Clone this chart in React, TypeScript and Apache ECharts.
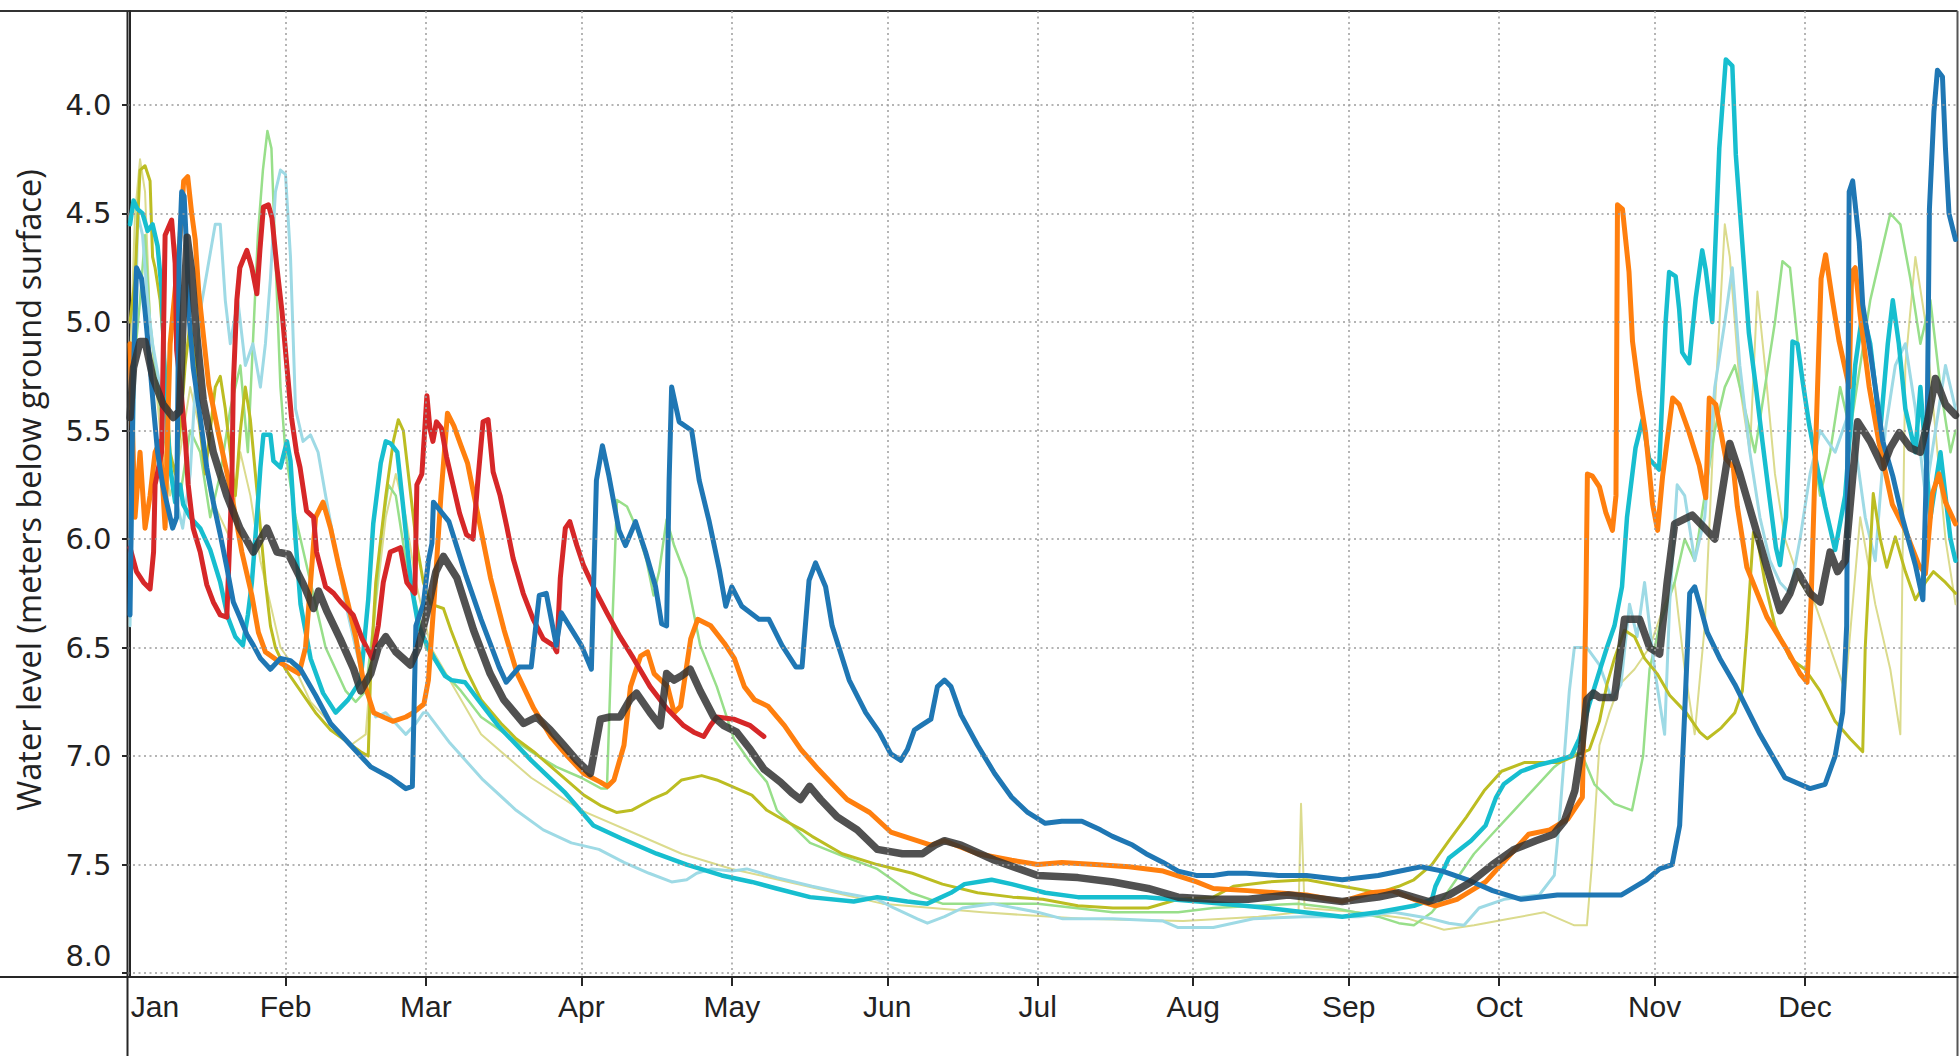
import React, { useEffect, useRef } from 'react';
import * as echarts from 'echarts';

// ---------- axis definitions ----------
const MONTHS = ['Jan', 'Feb', 'Mar', 'Apr', 'May', 'Jun', 'Jul', 'Aug', 'Sep', 'Oct', 'Nov', 'Dec'];
const MONTH_START_DAYS = [0, 31, 59, 90, 120, 151, 181, 212, 243, 273, 304, 334];
const Y_TICKS = [4.0, 4.5, 5.0, 5.5, 6.0, 6.5, 7.0, 7.5, 8.0];
const Y_TITLE = 'Water level (meters below ground surface)';

// ---------- series: [day of year, water level (m below surface)] ----------
const MEAN: [number, number][] = [
  [0, 5.44], [0.7, 5.21], [2, 5.09], [3, 5.09], [4.6, 5.26], [6.6, 5.38], [8.6, 5.44], [9.9, 5.41], [10.6, 4.98], [11.4, 4.61],
  [12.2, 4.75], [13.3, 5.06], [14.6, 5.36], [16.6, 5.6], [19.3, 5.8], [21.9, 5.95], [24.6, 6.06], [27.3, 5.95], [29.3, 6.06],
  [31.6, 6.07], [34.6, 6.21], [36.6, 6.32], [37.6, 6.24], [39.2, 6.33], [41.9, 6.46], [44.6, 6.6], [46, 6.7], [48, 6.62],
  [49.5, 6.5], [51, 6.45], [53, 6.52], [55.9, 6.58], [57.5, 6.5], [59.2, 6.34], [61, 6.15], [62.5, 6.08], [65.2, 6.18],
  [68.5, 6.42], [71.8, 6.62], [74.5, 6.74], [78.5, 6.85], [81.1, 6.82], [83.8, 6.88], [86.5, 6.95], [89.1, 7.02], [91.8, 7.08],
  [93.8, 6.83], [95.7, 6.82], [97.7, 6.82], [99.7, 6.74], [101, 6.71], [103.7, 6.8], [105.7, 6.86], [107, 6.62], [108.5, 6.65],
  [110, 6.63], [111.7, 6.6], [113.7, 6.7], [116.4, 6.82], [118.4, 6.86], [121, 6.89], [123.7, 6.97], [126.4, 7.06],
  [129.7, 7.12], [132, 7.17], [133.7, 7.2], [135.5, 7.14], [137.7, 7.2], [141, 7.28], [145, 7.34], [149, 7.43], [154, 7.45],
  [158, 7.45], [160.5, 7.41], [162.4, 7.39], [165.7, 7.41], [172.4, 7.48], [181, 7.55], [189, 7.56], [196, 7.58], [203, 7.61],
  [209, 7.65], [216, 7.66], [223, 7.66], [231, 7.64], [241.7, 7.67], [248.9, 7.65], [253, 7.63], [258.9, 7.67], [263, 7.64],
  [267.4, 7.58], [271.7, 7.5], [276, 7.43], [280.3, 7.39], [283.9, 7.36], [286, 7.3], [288.1, 7.16], [289.5, 6.95], [290.5, 6.74],
  [291.8, 6.71], [293, 6.73], [296, 6.73], [298, 6.37], [301, 6.37], [303, 6.5], [305, 6.53], [306.5, 6.2], [308, 5.93],
  [311.5, 5.89], [314, 5.95], [316, 6.0], [319, 5.56], [321, 5.7], [323.5, 5.9], [326, 6.1], [329, 6.33], [331, 6.25],
  [332.5, 6.15], [335, 6.25], [337, 6.29], [339, 6.06], [340.5, 6.15], [342, 6.1], [344.5, 5.46], [347, 5.55], [349.5, 5.67],
  [351, 5.58], [352.8, 5.51], [355, 5.58], [357, 5.6], [358.5, 5.45], [360, 5.26], [362, 5.38], [364, 5.43],
];

const DARK_BLUE: [number, number][] = [
  [0, 6.35], [0.6, 5.3], [1.3, 4.75], [2.3, 4.8], [3, 4.95], [3.8, 5.15], [4.7, 5.4], [5.5, 5.6], [6.5, 5.75], [7.5, 5.85],
  [8.5, 5.95], [9.3, 5.9], [9.8, 4.7], [10.3, 4.4], [10.8, 4.42], [11.3, 4.67], [11.8, 4.98], [12.6, 5.21], [14, 5.44],
  [15.3, 5.67], [16.6, 5.83], [18, 5.98], [19.3, 6.13], [20.6, 6.29], [21.9, 6.36], [23.3, 6.44], [24.6, 6.49], [26, 6.55],
  [28, 6.6], [30, 6.55], [32, 6.56], [34, 6.6], [37, 6.72], [40, 6.85], [44, 6.95], [48, 7.05], [52, 7.1], [55, 7.15],
  [56.3, 7.14], [57, 6.4], [58.5, 6.3], [59.5, 6.1], [60.2, 6.02], [60.5, 5.83], [63.6, 5.92], [67, 6.17], [70, 6.37],
  [73.6, 6.59], [75, 6.66], [77.6, 6.59], [80, 6.59], [81.6, 6.26], [83, 6.25], [85, 6.49], [86, 6.34], [90, 6.49], [92, 6.6],
  [93, 5.73], [94.2, 5.57], [95.5, 5.71], [97.5, 5.96], [98.8, 6.03], [100.8, 5.92], [102.8, 6.06], [104.8, 6.22], [106, 6.39],
  [107, 6.4], [107.5, 5.73], [108, 5.3], [109.5, 5.46], [112, 5.5], [113.5, 5.73], [115.5, 5.92], [117.5, 6.14], [118.8, 6.31],
  [120, 6.22], [122, 6.31], [125.4, 6.37], [127.4, 6.37], [130, 6.49], [132.8, 6.59], [134, 6.59], [135.4, 6.19], [136.7, 6.11],
  [138.7, 6.22], [140, 6.4], [143.4, 6.65], [146.7, 6.8], [149.4, 6.89], [151.7, 6.99], [153.7, 7.02], [155, 6.97],
  [156.4, 6.88], [157.7, 6.86], [159.7, 6.83], [161, 6.68], [162.4, 6.65], [163.7, 6.68], [165.7, 6.81], [169, 6.95],
  [172.4, 7.08], [175.8, 7.19], [179, 7.26], [182.5, 7.31], [185.8, 7.3], [189.8, 7.3], [193.5, 7.34], [195.9, 7.37],
  [199.9, 7.41], [202.6, 7.45], [206, 7.49], [209, 7.53], [212.6, 7.55], [216, 7.55], [219, 7.54], [222.6, 7.54], [229, 7.55],
  [234.6, 7.55], [241.7, 7.57], [248.9, 7.55], [257.4, 7.51], [261.7, 7.53], [266.7, 7.57], [271.7, 7.62], [277.4, 7.66],
  [284.6, 7.64], [291.7, 7.64], [297.4, 7.64], [302.4, 7.57], [305, 7.52], [307.5, 7.5], [309, 7.32], [310, 6.8], [311, 6.25],
  [312, 6.22], [313, 6.3], [314.5, 6.43], [317, 6.55], [320, 6.67], [325, 6.9], [330, 7.1], [335, 7.15], [338, 7.13], [340, 7.0],
  [341.5, 6.8], [342.3, 6.4], [342.8, 4.4], [343.5, 4.35], [344.8, 4.63], [345.5, 4.92], [347, 5.14], [348, 5.3], [349.5, 5.55],
  [351.5, 5.71], [353.5, 5.91], [356, 6.12], [357.5, 6.28], [358.3, 5.6], [358.8, 4.48], [359.7, 4.03], [360.4, 3.84],
  [361.4, 3.87], [362, 4.2], [362.7, 4.5], [364, 4.62],
];

const ORANGE: [number, number][] = [
  [0, 5.1], [0.5, 5.5], [1, 5.9], [2, 5.6], [3, 5.95], [4, 5.8], [5, 5.6], [6, 5.55], [7, 5.95], [7.5, 5.5], [8, 5.1], [9, 4.85],
  [10, 4.6], [10.7, 4.35], [11.5, 4.33], [12.3, 4.5], [13, 4.62], [13.7, 4.86], [15.7, 5.29], [17.7, 5.52], [20.3, 5.8],
  [22.3, 6.06], [24.3, 6.26], [25.6, 6.43], [27, 6.52], [30, 6.57], [33.7, 6.62], [35, 6.5], [36, 6.2], [37, 5.9], [38.5, 5.83],
  [40, 5.95], [41.7, 6.13], [43.5, 6.3], [45, 6.45], [46.5, 6.65], [48.6, 6.8], [52.4, 6.84], [55, 6.82], [56.5, 6.8],
  [58.6, 6.76], [59.5, 6.65], [60.7, 6.26], [62, 5.8], [63.3, 5.42], [64.6, 5.48], [66, 5.57], [67.3, 5.65], [69.3, 5.88],
  [71.9, 6.18], [74.6, 6.42], [77.2, 6.62], [80.5, 6.78], [83.9, 6.91], [87.2, 7.0], [90.5, 7.08], [93.8, 7.12], [95.2, 7.14],
  [96.5, 7.11], [98.5, 6.95], [99.8, 6.68], [101.8, 6.54], [103.2, 6.52], [104.5, 6.62], [107.2, 6.68], [108.5, 6.8],
  [109.8, 6.77], [111.8, 6.46], [113.2, 6.37], [115.8, 6.4], [118.5, 6.48], [120.5, 6.55], [122.5, 6.68], [124.5, 6.74],
  [127.2, 6.77], [130.5, 6.86], [133.8, 6.97], [137.2, 7.06], [140.5, 7.14], [143, 7.2], [147.5, 7.26], [150.3, 7.32],
  [151.7, 7.35], [155.7, 7.38], [159.7, 7.41], [162.4, 7.39], [169, 7.45], [175.8, 7.48], [181, 7.5], [185.8, 7.49],
  [192.5, 7.5], [199.2, 7.51], [206, 7.53], [212.7, 7.58], [216, 7.61], [222.8, 7.62], [234.6, 7.64], [241.7, 7.67],
  [247.4, 7.63], [251.7, 7.62], [256, 7.66], [260.3, 7.69], [264.6, 7.66], [270.3, 7.58], [274.6, 7.47], [278.9, 7.36],
  [283.1, 7.34], [286.7, 7.29], [289.6, 7.19], [290.3, 6.3], [290.6, 5.7], [291.6, 5.71], [293, 5.76], [294.3, 5.88],
  [295.6, 5.96], [296.3, 5.8], [296.6, 4.46], [297.6, 4.48], [298.9, 4.77], [299.6, 5.09], [300.9, 5.32], [302.2, 5.51],
  [303.6, 5.84], [304.6, 5.96], [305.6, 5.71], [307.6, 5.35], [308.9, 5.38], [310.9, 5.51], [312.9, 5.66], [314.2, 5.81],
  [314.9, 5.35], [316.2, 5.38], [318.2, 5.63], [319.7, 5.67], [320.5, 5.85], [322.4, 6.13], [326.4, 6.36], [330.4, 6.51],
  [333, 6.62], [334.4, 6.66], [335.2, 6.29], [336.2, 5.51], [337.2, 4.8], [338.1, 4.69], [339.4, 4.89], [340.8, 5.09],
  [342.8, 5.3], [343.3, 4.77], [344, 4.75], [345, 4.97], [346.8, 5.3], [348.7, 5.55], [351.4, 5.84], [354, 5.96],
  [356.7, 6.12], [358, 6.16], [359.4, 5.79], [360.7, 5.7], [362, 5.83], [364, 5.93],
];

const RED: [number, number][] = [
  [0, 6.04], [1.3, 6.15], [2.7, 6.2], [4, 6.23], [4.7, 6.06], [5, 5.75], [6.3, 5.6], [7, 4.6], [8.3, 4.53], [9, 4.73],
  [9.3, 5.13], [10.3, 5.35], [11, 5.53], [11.6, 5.75], [12.6, 5.95], [14, 6.06], [15.3, 6.21], [16.6, 6.29], [18, 6.35],
  [19.3, 6.36], [20.3, 5.75], [20.6, 5.29], [21.3, 4.9], [21.9, 4.75], [23.3, 4.67], [24.3, 4.75], [25.3, 4.87], [25.9, 4.67],
  [26.6, 4.47], [27.6, 4.46], [28.3, 4.52], [29.3, 4.75], [30.3, 4.95], [31.3, 5.21], [32.2, 5.44], [33.2, 5.6], [33.9, 5.67],
  [35.2, 5.87], [36.6, 5.9], [37.2, 6.06], [39, 6.22], [40.6, 6.25], [42, 6.29], [44.5, 6.35], [46.3, 6.46], [48.3, 6.55],
  [49.5, 6.4], [50.5, 6.2], [51.9, 6.06], [53.9, 6.04], [55.2, 6.2], [56.8, 6.25], [57.2, 5.75], [58.2, 5.7], [59.2, 5.34],
  [59.8, 5.49], [60.4, 5.55], [61.1, 5.46], [62.1, 5.49], [63.1, 5.62], [64.4, 5.75], [65.7, 5.88], [67.1, 5.98], [68.4, 6.0],
  [69.4, 5.72], [70.4, 5.46], [71.4, 5.45], [72.4, 5.69], [73.8, 5.8], [75.1, 5.94], [76.4, 6.09], [78.4, 6.25], [80.4, 6.37],
  [82.4, 6.46], [84.4, 6.49], [85.1, 6.52], [85.8, 6.18], [86.8, 5.95], [87.7, 5.92], [89.1, 6.03], [90.4, 6.12], [92.4, 6.22],
  [95.1, 6.34], [97.7, 6.45], [100.4, 6.55], [103.7, 6.68], [107, 6.78], [110.4, 6.86], [112.4, 6.89], [114.4, 6.91],
  [115.7, 6.86], [117, 6.82], [120.4, 6.83], [123.7, 6.86], [126.4, 6.91],
];

const CYAN: [number, number][] = [
  [0, 4.55], [0.7, 4.44], [1.5, 4.48], [2.5, 4.5], [3.5, 4.58], [4.5, 4.55], [5.5, 4.65], [6.3, 4.85], [7, 5.3], [8, 5.67],
  [9, 5.83], [10, 5.75], [10.6, 5.84], [12, 5.9], [14, 5.95], [16, 6.05], [18, 6.2], [19.5, 6.36], [21, 6.45], [22.5, 6.49],
  [23.5, 6.35], [24.3, 6.2], [25.3, 5.9], [26, 5.67], [26.6, 5.52], [28, 5.52], [28.6, 5.64], [30, 5.67], [31.3, 5.55],
  [32, 5.64], [33, 6.0], [34, 6.3], [36, 6.55], [38.5, 6.71], [41, 6.8], [43.5, 6.74], [46, 6.65], [47.5, 6.28], [48.5, 5.93],
  [50, 5.65], [51, 5.55], [52, 5.56], [53.3, 5.6], [54.6, 5.88], [56, 6.2], [57.5, 6.4], [59.5, 6.5], [60.7, 6.55],
  [62.8, 6.63], [64.1, 6.65], [66.8, 6.66], [69.4, 6.74], [73.4, 6.86], [80, 7.02], [86.8, 7.17], [92.4, 7.32], [98, 7.38],
  [105, 7.45], [111, 7.5], [118, 7.55], [124, 7.58], [128.9, 7.61], [135.6, 7.65], [144.3, 7.67], [149, 7.65], [155, 7.67],
  [159, 7.68], [163.7, 7.63], [166.4, 7.59], [171.8, 7.57], [175.8, 7.59], [182.5, 7.63], [189, 7.65], [202.6, 7.65],
  [213, 7.67], [227, 7.7], [241.7, 7.74], [248.9, 7.72], [256, 7.69], [259.6, 7.66], [260.3, 7.6], [263, 7.47], [267.4, 7.39],
  [270.3, 7.32], [272.4, 7.19], [273.9, 7.13], [277.4, 7.07], [281, 7.04], [284.6, 7.02], [287.4, 7.0], [289, 6.92],
  [291, 6.76], [293, 6.61], [294.5, 6.5], [296, 6.4], [297.5, 6.22], [298.5, 5.9], [300.2, 5.58], [301.6, 5.45], [302.9, 5.63],
  [304.9, 5.68], [306.2, 5.0], [306.9, 4.77], [308.2, 4.79], [308.9, 4.94], [309.5, 5.14], [310.9, 5.19], [312.2, 4.89],
  [313.5, 4.67], [314.2, 4.76], [315.5, 5.0], [316.9, 4.2], [318.2, 3.79], [319.5, 3.82], [320.2, 4.23], [321.5, 4.64],
  [322.8, 5.05], [324.2, 5.3], [325.5, 5.55], [326.8, 5.79], [328.2, 6.04], [329, 6.12], [330.2, 5.9], [331.5, 5.09],
  [332.5, 5.1], [333.5, 5.27], [334.8, 5.47], [336.1, 5.63], [338, 5.85], [340, 6.05], [342, 5.8], [344, 5.2], [345.5, 4.95],
  [347, 5.1], [349, 5.5], [350.5, 5.1], [351.5, 4.9], [352.7, 5.1], [354, 5.4], [356, 5.6], [357, 5.3], [359, 5.9], [361, 5.6],
  [363, 6.0], [364, 6.1],
];

const LIGHT_CYAN: [number, number][] = [
  [0, 6.4], [0.7, 5.6], [1.5, 4.5], [2.5, 4.6], [3.5, 4.9], [4.5, 5.1], [6, 5.3], [7.5, 5.6], [9, 5.8], [10.5, 5.95], [12, 5.7],
  [13, 5.3], [14, 4.95], [15.5, 4.75], [17, 4.55], [18, 4.55], [19, 4.9], [20, 5.1], [21.5, 4.9], [23, 5.2], [24.5, 5.1],
  [26, 5.3], [27, 5.1], [28, 4.8], [29, 4.4], [30, 4.3], [31, 4.32], [32, 4.7], [33, 5.4], [34.5, 5.55], [36, 5.52], [37.5, 5.6],
  [39, 5.8], [41, 6.05], [43, 6.3], [45, 6.5], [47, 6.7], [49, 6.82], [51, 6.8], [53, 6.85], [55, 6.9], [57, 6.85], [58.5, 6.8],
  [59.2, 6.8], [63.8, 6.94], [70.4, 7.11], [77, 7.25], [82.4, 7.34], [88, 7.4], [93.5, 7.43], [98.5, 7.49], [103.5, 7.54],
  [108, 7.58], [111, 7.57], [113, 7.54], [116, 7.52], [120, 7.53], [123, 7.52], [129, 7.56], [136, 7.6], [142, 7.63],
  [149, 7.66], [152.3, 7.7], [157, 7.75], [159, 7.77], [162.4, 7.74], [166, 7.7], [172, 7.68], [181, 7.72], [186, 7.75],
  [196, 7.75], [206, 7.76], [209, 7.79], [216, 7.79], [224, 7.75], [234, 7.74], [245, 7.74], [252, 7.72], [259.6, 7.75],
  [263, 7.77], [266, 7.78], [269, 7.7], [274, 7.66], [281, 7.64], [284, 7.55], [285, 7.3], [286, 7.0], [287, 6.7], [288, 6.5],
  [290.5, 6.5], [293, 6.58], [295.5, 6.74], [297.3, 6.67], [299, 6.3], [300.5, 6.45], [302, 6.2], [304, 6.6], [306, 6.9],
  [307, 6.3], [308.5, 5.75], [310, 5.8], [312, 6.1], [314, 5.9], [316, 5.3], [318, 5.0], [319.5, 4.75], [321, 5.2], [323, 5.6],
  [325, 5.9], [327, 6.1], [329, 6.2], [331, 6.25], [333, 6.0], [335, 5.7], [337, 5.5], [340, 5.6], [343, 5.4], [346, 5.9],
  [348, 6.1], [350, 5.5], [352, 5.2], [354, 5.1], [356, 5.4], [358, 5.8], [360, 5.5], [362, 5.2], [364, 5.4],
];

const OLIVE: [number, number][] = [
  [0, 5.0], [1, 4.8], [2, 4.3], [3, 4.28], [4, 4.35], [4.5, 4.7], [5, 4.75], [6, 4.9], [7, 5.2], [8, 5.6], [9, 5.7], [10, 5.5],
  [11, 5.2], [12, 5.0], [13, 5.2], [14, 5.5], [15, 5.7], [16, 5.5], [17, 5.3], [18, 5.25], [19, 5.4], [20, 5.6], [21, 5.8],
  [22, 5.5], [23, 5.3], [24, 5.45], [25, 5.7], [26, 5.95], [27, 6.2], [28, 6.4], [29, 6.5], [31, 6.6], [34, 6.7], [37, 6.8],
  [40, 6.88], [43, 6.93], [46, 6.98], [47.5, 7.0], [48, 6.6], [49, 6.2], [50, 6.0], [51, 5.8], [52.5, 5.55], [53.5, 5.45],
  [54.5, 5.5], [55.5, 5.7], [57, 6.0], [58.5, 6.2], [60, 6.3], [62.5, 6.32], [64, 6.42], [67, 6.6], [70, 6.74], [74, 6.85],
  [77, 6.92], [80.5, 6.98], [84, 7.05], [87, 7.11], [90.5, 7.18], [94, 7.23], [97, 7.26], [100, 7.25], [104, 7.2], [107, 7.17],
  [110, 7.11], [114, 7.09], [117, 7.11], [120, 7.14], [124, 7.18], [127, 7.25], [130, 7.29], [134, 7.34], [136, 7.37],
  [142, 7.45], [149, 7.5], [156, 7.54], [162, 7.59], [169, 7.63], [176, 7.65], [182, 7.66], [189, 7.69], [196, 7.7],
  [203, 7.7], [209, 7.66], [216, 7.65], [220, 7.6], [227, 7.58], [234.6, 7.57], [241.7, 7.6], [249, 7.63], [253, 7.6],
  [256, 7.57], [259.6, 7.5], [263, 7.39], [266.5, 7.28], [270, 7.16], [273.5, 7.07], [278, 7.03], [285, 7.03], [288, 7.0],
  [291, 6.97], [293, 6.84], [294.5, 6.67], [296, 6.55], [298, 6.42], [300, 6.45], [302, 6.55], [304.5, 6.62], [307, 6.72],
  [310.3, 6.8], [313, 6.89], [314.5, 6.92], [317.3, 6.87], [320, 6.8], [321.5, 6.7], [322.4, 6.43], [323.7, 5.97], [324.5, 6.0],
  [326, 6.2], [328, 6.4], [331, 6.55], [334, 6.6], [337, 6.7], [340, 6.84], [343, 6.92], [345.5, 6.98], [346, 6.5],
  [347.6, 5.79], [349, 6.0], [350.3, 6.13], [352, 5.99], [354, 6.15], [356, 6.28], [358, 6.2], [359.6, 6.15], [362, 6.2],
  [364, 6.25],
];

const LIGHT_OLIVE: [number, number][] = [
  [0, 5.2], [1, 4.5], [2, 4.25], [3, 4.4], [4, 5.0], [6, 5.5], [8, 5.8], [10, 5.6], [12, 5.3], [14, 5.5], [16, 5.8], [18, 5.9],
  [20, 6.0], [22, 5.6], [24, 5.8], [26, 6.1], [28, 6.3], [30, 6.5], [33, 6.6], [36, 6.75], [40, 6.85], [44, 6.95], [47, 6.9],
  [49, 6.3], [51, 5.9], [53, 5.7], [55, 5.9], [57, 6.2], [60, 6.5], [65, 6.7], [70, 6.9], [80, 7.1], [90, 7.25], [100, 7.35],
  [110, 7.45], [120, 7.52], [135, 7.6], [150, 7.68], [170, 7.72], [190, 7.75], [210, 7.76], [225, 7.74], [233, 7.72],
  [233.5, 7.22], [234.2, 7.7], [245, 7.72], [255, 7.75], [262, 7.8], [268, 7.78], [275, 7.75], [282, 7.72], [288, 7.78],
  [290.5, 7.78], [291.5, 7.5], [293, 6.95], [295, 6.8], [297, 6.67], [300, 6.6], [303, 6.5], [306, 6.3], [308, 6.2], [310, 6.6],
  [312, 6.9], [314, 6.4], [316, 5.4], [318, 4.55], [319, 4.7], [321, 5.3], [323, 5.6], [324.5, 4.86], [326, 5.2], [328, 5.7],
  [330, 6.0], [333, 6.2], [336, 6.3], [339, 6.5], [342, 6.7], [345, 5.9], [348, 6.3], [351, 6.6], [353, 6.9], [353.5, 6.0],
  [354, 5.2], [356, 4.7], [358, 5.0], [360, 5.5], [362, 6.0], [364, 6.3],
];

const LIGHT_GREEN: [number, number][] = [
  [0, 5.4], [2, 4.9], [3, 4.6], [4, 5.0], [6, 5.4], [8, 5.7], [10, 5.8], [12, 5.5], [14, 5.6], [16, 5.9], [18, 5.7], [20, 5.4],
  [22, 5.2], [23.5, 5.6], [24.5, 5.1], [25.5, 4.6], [26.5, 4.3], [27.4, 4.12], [28.2, 4.2], [29, 4.7], [30, 5.3], [31, 5.6],
  [33, 5.9], [35, 6.1], [37, 6.3], [39, 6.5], [41, 6.6], [43, 6.7], [45, 6.75], [47, 6.7], [48.5, 6.4], [50, 6.0], [51.5, 5.75],
  [53, 5.8], [55, 6.1], [57, 6.3], [59, 6.5], [62, 6.6], [66, 6.7], [70, 6.82], [75, 6.9], [80, 6.98], [85, 7.05], [90, 7.1],
  [94, 7.15], [95.1, 7.15], [96, 6.5], [97.1, 5.82], [99.1, 5.85], [101, 5.95], [103, 6.1], [104.4, 6.26], [105.5, 6.15],
  [107, 5.91], [108.5, 6.03], [111, 6.18], [113.7, 6.49], [117, 6.68], [120.4, 6.92], [123.7, 7.03], [127, 7.12], [129, 7.25],
  [135.6, 7.4], [142, 7.46], [149, 7.52], [155.7, 7.63], [162, 7.68], [181, 7.68], [196, 7.72], [209, 7.72], [216, 7.7],
  [233, 7.68], [240, 7.7], [248.9, 7.74], [253, 7.77], [256, 7.78], [259.6, 7.72], [262, 7.65], [265, 7.55], [268, 7.45],
  [272, 7.35], [276, 7.25], [280, 7.15], [284, 7.05], [288, 6.98], [290, 7.02], [292, 7.13], [296, 7.22], [299.5, 7.25],
  [301.7, 7.0], [303, 6.6], [305, 6.4], [308, 6.2], [310, 6.0], [312, 6.1], [314, 5.8], [316, 5.5], [318, 5.3], [320, 5.2],
  [322, 5.4], [324, 5.6], [326, 5.3], [328, 5.0], [329.5, 4.72], [331, 4.75], [333, 5.2], [335, 5.5], [337, 5.8], [339, 5.6],
  [341, 5.3], [343, 5.5], [345, 5.2], [347, 4.9], [349, 4.7], [351, 4.5], [353, 4.55], [355, 4.8], [357, 5.1], [359, 4.9],
  [361, 5.3], [363, 5.6], [364, 5.5],
];

// ---------- layout constants ----------
const W = 1960;
const H = 1056;
const PLOT_LEFT = 127.5;
const PLOT_RIGHT = 1957.5;
const PLOT_TOP = 11;
const PLOT_BOTTOM = 977;
const X_MIN = -0.5;
const X_MAX = 364.4;
const Y_MIN = 3.567;
const Y_MAX = 8.018;

const lineSeries = (name: string, data: [number, number][], color: string, width: number, opacity = 1) => ({
  type: 'line',
  name,
  data,
  showSymbol: false,
  symbol: 'none',
  silent: true,
  clip: true,
  emphasis: { disabled: true },
  lineStyle: { color, width, opacity, cap: 'round', join: 'round' },
});

export default function App() {
  const ref = useRef<HTMLDivElement>(null);

  useEffect(() => {
    if (!ref.current) return;
    const chart = echarts.init(ref.current, undefined, { renderer: 'svg' });
    const axisColor = '#262626';

    const gridSeries = {
      type: 'line',
      name: 'grid',
      data: [[-10, 5]],
      showSymbol: false,
      symbol: 'none',
      silent: true,
      clip: true,
      lineStyle: { width: 0, opacity: 0 },
      markLine: {
        silent: true,
        symbol: ['none', 'none'],
        label: { show: false },
        emphasis: { disabled: true },
        lineStyle: { color: '#9c9c9c', type: [2, 3.5], width: 1.5 },
        data: [
          ...MONTH_START_DAYS.slice(1).map((d) => ({ xAxis: d })),
          ...Y_TICKS.map((v) => ({ yAxis: v })),
        ],
      },
    };

    chart.setOption({
      animation: false,
      backgroundColor: '#ffffff',
      grid: {
        left: PLOT_LEFT,
        right: W - PLOT_RIGHT,
        top: PLOT_TOP,
        bottom: H - PLOT_BOTTOM,
        containLabel: false,
      },
      xAxis: {
        type: 'value',
        min: X_MIN,
        max: X_MAX,
        axisLine: { show: true, lineStyle: { color: axisColor, width: 2 } },
        axisTick: {
          show: true,
          customValues: MONTH_START_DAYS.slice(1),
          length: 9,
          lineStyle: { color: axisColor, width: 2 },
        },
        axisLabel: {
          customValues: MONTH_START_DAYS,
          margin: 14,
          fontFamily: 'Liberation Sans',
          fontSize: 30,
          lineHeight: 31,
          color: '#222',
          formatter: (v: number) => {
            const idx = MONTH_START_DAYS.indexOf(Math.round(v));
            const name = idx >= 0 ? MONTHS[idx] : '';
            return idx === 0 ? `{j|${name}}` : name;
          },
          rich: {
            j: {
              fontFamily: 'Liberation Sans',
              fontSize: 30,
              lineHeight: 31,
              color: '#222',
              padding: [0, 0, 0, 50],
            },
          },
        },
        splitLine: { show: false },
      },
      yAxis: {
        type: 'value',
        inverse: true,
        min: Y_MIN,
        max: Y_MAX,
        axisLine: { show: true, lineStyle: { color: axisColor, width: 2 } },
        axisTick: {
          show: true,
          customValues: Y_TICKS,
          length: 8,
          lineStyle: { color: axisColor, width: 2 },
        },
        axisLabel: {
          customValues: Y_TICKS,
          margin: 16,
          fontFamily: 'DejaVu Sans',
          fontSize: 29,
          color: '#222',
          formatter: (v: number) => (Math.abs(v - 8) < 1e-6 ? `{b|${v.toFixed(1)}}` : v.toFixed(1)),
          rich: {
            b: {
              fontFamily: 'DejaVu Sans',
              fontSize: 29,
              color: '#222',
              padding: [0, 0, 34, 0],
            },
          },
        },
        splitLine: { show: false },
      },
      graphic: [
        { type: 'line', silent: true, shape: { x1: 0, y1: PLOT_TOP, x2: PLOT_RIGHT, y2: PLOT_TOP }, style: { stroke: '#333', lineWidth: 2 } },
        { type: 'line', silent: true, shape: { x1: 0, y1: PLOT_BOTTOM, x2: PLOT_RIGHT, y2: PLOT_BOTTOM }, style: { stroke: axisColor, lineWidth: 2 } },
        { type: 'line', silent: true, shape: { x1: PLOT_LEFT, y1: PLOT_TOP, x2: PLOT_LEFT, y2: H }, style: { stroke: axisColor, lineWidth: 2 } },
        { type: 'line', silent: true, shape: { x1: PLOT_RIGHT, y1: PLOT_TOP, x2: PLOT_RIGHT, y2: H }, style: { stroke: '#555', lineWidth: 2 } },
        {
          type: 'text',
          silent: true,
          x: 28,
          y: 490,
          rotation: Math.PI / 2,
          style: {
            text: Y_TITLE,
            fontFamily: 'Open Sans',
            fontSize: 32.5,
            fill: '#222',
            align: 'center',
            verticalAlign: 'middle',
          },
        },
      ],
      series: [
        gridSeries,
        lineSeries('light olive', LIGHT_OLIVE, '#dbdb8d', 2),
        lineSeries('light green', LIGHT_GREEN, '#98df8a', 2.5),
        lineSeries('light cyan', LIGHT_CYAN, '#9edae5', 3),
        lineSeries('olive', OLIVE, '#bcbd22', 3),
        lineSeries('cyan', CYAN, '#17becf', 4.5),
        lineSeries('orange', ORANGE, '#ff7f0e', 5),
        lineSeries('red', RED, '#d62728', 5),
        lineSeries('dark blue', DARK_BLUE, '#1f77b4', 5),
        lineSeries('mean', MEAN, '#333333', 7.5, 0.85),
      ],
    });

    return () => chart.dispose();
  }, []);

  return (
    <div
      ref={ref}
      style={{ position: 'fixed', left: 0, top: 0, width: W, height: H, background: '#fff' }}
    />
  );
}
